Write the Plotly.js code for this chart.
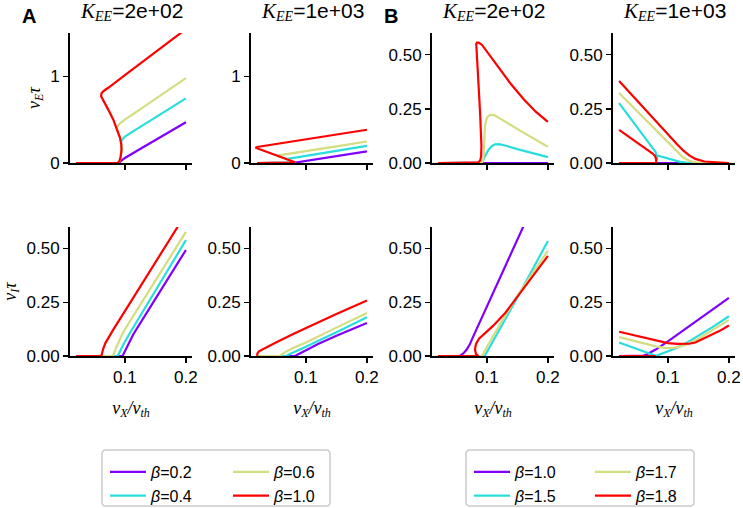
<!DOCTYPE html>
<html><head><meta charset="utf-8">
<script src="https://cdn.plot.ly/plotly-3.0.1.min.js"></script>
<style>html,body{margin:0;padding:0;background:#fff}#chart{width:743px;height:508px}</style>
</head><body><div id="chart"></div>
<script>
// ---------- data: [x = nu_X/nu_th, y] pairs, one list per curve ----------
const betaA = ['0.2', '0.4', '0.6', '1.0'];
const betaB = ['1.0', '1.5', '1.7', '1.8'];
const kLabels = ['2e+02', '1e+03'];
const xTicks = [0.1, 0.2];
const xTickText = ['0.1', '0.2'];
const yTicksE_A = [0, 1];
const yTickTextE_A = ['0', '1'];
const yTicksRate = [0, 0.25, 0.5];
const yTickTextRate = ['0.00', '0.25', '0.50'];

// Panel A, nu_E tau, K_EE = 2e+02
const A_E200_b02 = [[0.02,0],[0.05,0],[0.08,0],[0.09,0],[0.092,0.012],[0.095,0.03],[0.1,0.058],[0.12,0.142],[0.15,0.266],[0.2,0.47]];
const A_E200_b04 = [[0.02,0],[0.05,0],[0.08,0],[0.088,0],[0.091,0.02],[0.093,0.07],[0.0945,0.15],[0.0943,0.2],[0.0935,0.235],[0.095,0.265],[0.098,0.29],[0.1,0.305],[0.12,0.393],[0.15,0.525],[0.2,0.745]];
const A_E200_b06 = [[0.02,0],[0.05,0],[0.08,0],[0.088,0],[0.091,0.02],[0.093,0.07],[0.0945,0.15],[0.094,0.22],[0.092,0.29],[0.089,0.345],[0.087,0.384],[0.0875,0.415],[0.09,0.445],[0.0935,0.465],[0.1,0.5],[0.12,0.595],[0.15,0.74],[0.2,0.98]];
const A_E200_b10 = [[0.02,0],[0.05,0],[0.08,0],[0.088,0],[0.091,0.02],[0.093,0.07],[0.0945,0.15],[0.094,0.22],[0.092,0.29],[0.089,0.345],[0.085,0.43],[0.081,0.5],[0.0727,0.616],[0.066,0.7],[0.0625,0.74],[0.061,0.77],[0.0615,0.8],[0.064,0.825],[0.068,0.845],[0.0727,0.868],[0.1,1.013],[0.15,1.28],[0.2,1.545]];

// Panel A, nu_E tau, K_EE = 1e+03
const A_E1000_b02 = [[0.02,0],[0.05,0],[0.08,0],[0.083,0.005],[0.088,0.011],[0.1,0.024],[0.15,0.079],[0.2,0.135]];
const A_E1000_b04 = [[0.02,0],[0.05,0],[0.08,0],[0.083,0.005],[0.075,0.026],[0.068,0.043],[0.07,0.048],[0.075,0.053],[0.1,0.082],[0.15,0.14],[0.2,0.198]];
const A_E1000_b06 = [[0.02,0],[0.05,0],[0.08,0],[0.083,0.005],[0.07,0.04],[0.06,0.065],[0.053,0.082],[0.055,0.088],[0.06,0.093],[0.1,0.135],[0.15,0.191],[0.2,0.248]];
const A_E1000_b10 = [[0.02,0],[0.05,0],[0.08,0],[0.083,0.005],[0.07,0.04],[0.05,0.091],[0.03,0.139],[0.02,0.163],[0.0175,0.175],[0.02,0.185],[0.05,0.219],[0.1,0.273],[0.15,0.327],[0.2,0.384]];

// Panel B, nu_E tau, K_EE = 2e+02
const B_E200_b10 = [[0.02,0],[0.1,0],[0.2,0]];
const B_E200_b15 = [[0.02,0],[0.05,0],[0.088,0],[0.091,0.002],[0.093,0.01],[0.097,0.033],[0.102,0.058],[0.107,0.076],[0.113,0.086],[0.12,0.087],[0.13,0.081],[0.15,0.064],[0.17,0.048],[0.185,0.036],[0.2,0.027]];
const B_E200_b17 = [[0.02,0],[0.05,0],[0.088,0],[0.092,0.004],[0.094,0.015],[0.0952,0.05],[0.0958,0.12],[0.0965,0.16],[0.098,0.19],[0.1,0.208],[0.103,0.218],[0.107,0.223],[0.112,0.221],[0.12,0.207],[0.14,0.172],[0.16,0.14],[0.18,0.107],[0.2,0.075]];
const B_E200_b18 = [[0.02,0],[0.05,0],[0.08,0],[0.086,0.003],[0.089,0.012],[0.0905,0.03],[0.091,0.08],[0.0905,0.15],[0.089,0.22],[0.0875,0.3],[0.086,0.37],[0.084,0.43],[0.0825,0.5],[0.082,0.535],[0.0825,0.55],[0.084,0.556],[0.087,0.555],[0.092,0.545],[0.1,0.515],[0.12,0.44],[0.14,0.362],[0.16,0.295],[0.18,0.237],[0.2,0.19]];

// Panel B, nu_E tau, K_EE = 1e+03
const B_E1000_b10 = [[0.02,0],[0.1,0],[0.2,0]];
const B_E1000_b15 = [[0.02,0.276],[0.04,0.2],[0.06,0.125],[0.07,0.09],[0.076,0.067],[0.08,0.05],[0.081,0.03],[0.082,0.015],[0.0825,0.035],[0.085,0.033],[0.09,0.028],[0.1,0.018],[0.11,0.01],[0.12,0.005],[0.13,0.002],[0.14,0],[0.2,0]];
const B_E1000_b17 = [[0.02,0.323],[0.04,0.266],[0.06,0.209],[0.08,0.152],[0.095,0.109],[0.105,0.08],[0.115,0.05],[0.125,0.025],[0.135,0.01],[0.145,0.003],[0.16,0],[0.2,0]];
const B_E1000_b18 = [[0.02,0.378],[0.04,0.318],[0.06,0.256],[0.08,0.195],[0.1,0.133],[0.115,0.087],[0.125,0.058],[0.135,0.035],[0.145,0.019],[0.16,0.007],[0.18,0.002],[0.2,0],[null,null],[0.02,0.153],[0.04,0.114],[0.06,0.074],[0.0744,0.045],[0.079,0.032],[0.0805,0.02],[0.081,0],[0.05,0],[0.02,0]];

// Panel A, nu_I tau, K_EE = 2e+02
const A_I200_b02 = [[0.02,0],[0.05,0],[0.096,0],[0.098,0.01],[0.102,0.032],[0.107,0.062],[0.1136,0.1],[0.15,0.266],[0.2,0.493]];
const A_I200_b04 = [[0.02,0],[0.05,0],[0.088,0],[0.09,0.01],[0.094,0.035],[0.1,0.066],[0.108,0.106],[0.15,0.305],[0.2,0.539]];
const A_I200_b06 = [[0.02,0],[0.05,0],[0.08,0],[0.082,0.01],[0.085,0.035],[0.09,0.065],[0.095,0.098],[0.1028,0.137],[0.15,0.35],[0.2,0.577]];
const A_I200_b10 = [[0.02,0],[0.04,0],[0.06,0],[0.062,0.005],[0.064,0.03],[0.068,0.06],[0.074,0.092],[0.0807,0.1215],[0.1,0.209],[0.15,0.436],[0.2,0.662]];

// Panel A, nu_I tau, K_EE = 1e+03
const A_I1000_b02 = [[0.02,0],[0.05,0],[0.082,0],[0.086,0.006],[0.095,0.02],[0.1,0.028],[0.12,0.056],[0.15,0.094],[0.2,0.154]];
const A_I1000_b04 = [[0.02,0],[0.05,0],[0.068,0],[0.072,0.007],[0.08,0.018],[0.09,0.03],[0.1,0.043],[0.15,0.11],[0.2,0.18]];
const A_I1000_b06 = [[0.02,0],[0.04,0],[0.057,0],[0.062,0.01],[0.07,0.025],[0.08,0.038],[0.09,0.05],[0.1,0.063],[0.15,0.132],[0.2,0.2]];
const A_I1000_b10 = [[0.02,0],[0.0205,0.012],[0.023,0.022],[0.03,0.033],[0.05,0.062],[0.08,0.103],[0.1,0.13],[0.15,0.195],[0.2,0.258]];

// Panel B, nu_I tau, K_EE = 2e+02
const B_I200_b10 = [[0.02,0],[0.05,0],[0.055,0],[0.058,0.005],[0.062,0.014],[0.067,0.03],[0.072,0.055],[0.0775,0.09],[0.1,0.23],[0.13,0.417],[0.165,0.635]];
const B_I200_b15 = [[0.02,0],[0.05,0],[0.096,0],[0.098,0.008],[0.1,0.018],[0.12,0.118],[0.15,0.272],[0.2,0.535]];
const B_I200_b17 = [[0.02,0],[0.05,0],[0.09,0],[0.093,0.005],[0.095,0.018],[0.1,0.042],[0.12,0.14],[0.15,0.28],[0.175,0.385],[0.2,0.49]];
const B_I200_b18 = [[0.02,0],[0.05,0],[0.086,0],[0.082,0.01],[0.0805,0.03],[0.082,0.055],[0.087,0.08],[0.094,0.098],[0.11,0.14],[0.13,0.2],[0.15,0.275],[0.17,0.35],[0.2,0.466]];

// Panel B, nu_I tau, K_EE = 1e+03
const B_I1000_b10 = [[0.02,0],[0.05,0],[0.057,0],[0.06,0.002],[0.065,0.007],[0.07,0.014],[0.08,0.03],[0.1,0.068],[0.15,0.168],[0.2,0.27]];
const B_I1000_b15 = [[0.02,0.063],[0.04,0.042],[0.06,0.022],[0.075,0.007],[0.08,0.001],[0.083,0.003],[0.09,0.01],[0.1,0.02],[0.115,0.038],[0.13,0.06],[0.15,0.093],[0.175,0.138],[0.2,0.185]];
const B_I1000_b17 = [[0.02,0.088],[0.04,0.073],[0.06,0.058],[0.08,0.045],[0.095,0.038],[0.105,0.037],[0.115,0.04],[0.13,0.052],[0.15,0.08],[0.175,0.122],[0.2,0.168]];
const B_I1000_b18 = [[0.02,0.113],[0.05,0.093],[0.085,0.067],[0.1,0.06],[0.115,0.056],[0.125,0.055],[0.135,0.057],[0.145,0.063],[0.156,0.077],[0.17,0.095],[0.185,0.117],[0.2,0.142],[null,null],[0.02,0],[0.05,0],[0.08,0]];

// ---------- styling / layout ----------
const lineColors = ['#8000ff', '#2adddd', '#d4dd80', '#ff0000'];
const W = 743, H = 508;
const colPx = [[70, 192], [251, 373], [432, 554], [613, 735]];
const rowPx = [[33, 163], [227, 356]];
const fx = p => p / W;
const fy = p => 1 - p / H;

const panels = [
  {col:0,row:0,set:'A',series:[A_E200_b02,A_E200_b04,A_E200_b06,A_E200_b10]},
  {col:1,row:0,set:'A',series:[A_E1000_b02,A_E1000_b04,A_E1000_b06,A_E1000_b10]},
  {col:2,row:0,set:'B',series:[B_E200_b10,B_E200_b15,B_E200_b17,B_E200_b18]},
  {col:3,row:0,set:'B',series:[B_E1000_b10,B_E1000_b15,B_E1000_b17,B_E1000_b18]},
  {col:0,row:1,set:'A',series:[A_I200_b02,A_I200_b04,A_I200_b06,A_I200_b10]},
  {col:1,row:1,set:'A',series:[A_I1000_b02,A_I1000_b04,A_I1000_b06,A_I1000_b10]},
  {col:2,row:1,set:'B',series:[B_I200_b10,B_I200_b15,B_I200_b17,B_I200_b18]},
  {col:3,row:1,set:'B',series:[B_I1000_b10,B_I1000_b15,B_I1000_b17,B_I1000_b18]}
];

const tickFont = {family: 'Liberation Sans, Arial, sans-serif', size: 17, color: '#000'};
const mathFont = {family: 'Liberation Serif, Times New Roman, serif', size: 18, color: '#000'};
const legendIds = {A: ['legend', 'legend', 'legend2', 'legend2'], B: ['legend3', 'legend3', 'legend4', 'legend4']};
// subscript drawn with a baseline shift on the same text line
const sub = (t, px) => '<span style="font-size:' + px + 'px;baseline-shift:-22%"><i>' + t + '</i></span>';

const traces = [];
const layout = {
  width: W, height: H,
  margin: {l: 0, r: 0, t: 0, b: 0, pad: 0, autoexpand: false},
  paper_bgcolor: '#fff', plot_bgcolor: 'rgba(0,0,0,0)',
  showlegend: true,
  annotations: [], shapes: []
};

panels.forEach((p, pi) => {
  const sfx = pi === 0 ? '' : String(pi + 1);
  const betas = p.set === 'A' ? betaA : betaB;
  p.series.forEach((s, si) => {
    traces.push({
      x: s.map(d => d[0]), y: s.map(d => d[1]),
      xaxis: 'x' + sfx, yaxis: 'y' + sfx,
      mode: 'lines', line: {color: lineColors[si], width: 2.2},
      name: '<i>β</i>=' + betas[si],
      legend: legendIds[p.set][si],
      showlegend: (p.row === 0 && (p.col === 0 || p.col === 2)),
      connectgaps: false, hoverinfo: 'skip'
    });
  });
  const isERowA = p.row === 0 && p.set === 'A';
  const xa = {
    domain: [fx(colPx[p.col][0]), fx(colPx[p.col][1])],
    anchor: 'y' + sfx, range: [0.01, 0.21],
    tickmode: 'array', tickvals: xTicks, ticktext: xTickText,
    showticklabels: p.row === 1,
    showline: true, linecolor: '#000', linewidth: 2,
    ticks: 'outside', ticklen: 5, tickwidth: 1.5, tickcolor: '#000',
    showgrid: false, zeroline: false, tickfont: tickFont, fixedrange: true
  };
  if (p.row === 1) {
    xa.title = {text: '<i>ν</i>' + sub('X', 12) + '<i>/ν</i>' + sub('th', 12), font: mathFont, standoff: 15};
  }
  const ya = {
    domain: [fy(rowPx[p.row][1]), fy(rowPx[p.row][0])],
    anchor: 'x' + sfx,
    range: isERowA ? [0, 1.5] : [0, 0.6],
    tickmode: 'array',
    tickvals: isERowA ? yTicksE_A : yTicksRate,
    ticktext: isERowA ? yTickTextE_A : yTickTextRate,
    showline: true, linecolor: '#000', linewidth: 2,
    ticks: 'outside', ticklen: 5, tickwidth: 1.5, tickcolor: '#000',
    showgrid: false, zeroline: false, tickfont: tickFont, fixedrange: true
  };
  if (pi === 0) ya.title = {text: '<i>ν</i>' + sub('E', 12) + '<i>τ</i>', font: mathFont, standoff: 5};
  if (pi === 4) ya.title = {text: '<i>ν</i>' + sub('I', 12) + '<i>τ</i>', font: mathFont, standoff: 9};
  layout['xaxis' + sfx] = xa;
  layout['yaxis' + sfx] = ya;
  if (p.row === 0) {
    layout.annotations.push({
      xref: 'paper', yref: 'paper',
      x: fx((colPx[p.col][0] + colPx[p.col][1]) / 2), y: fy(12),
      xanchor: 'center', yanchor: 'middle', showarrow: false,
      text: '<span style="font-family:Liberation Serif"><i>K</i>' + sub('EE', 14) + '</span>=' + kLabels[p.col % 2],
      font: {family: 'Liberation Sans, Arial, sans-serif', size: 21, color: '#000'}
    });
  }
});

// panel letters
[['A', 28.5], ['B', 391]].forEach(([t, xp]) => {
  layout.annotations.push({
    xref: 'paper', yref: 'paper', x: fx(xp), y: fy(16),
    xanchor: 'center', yanchor: 'middle', showarrow: false,
    text: '<b>' + t + '</b>',
    font: {family: 'Liberation Sans, Arial, sans-serif', size: 20, color: '#000'}
  });
});

// legends: two framed boxes, each with two columns
const legFont = {family: 'Liberation Sans, Arial, sans-serif', size: 16, color: '#000'};
const legTopPx = 455;
const legCols = {legend: 105, legend2: 228, legend3: 469, legend4: 590};
Object.keys(legCols).forEach(k => {
  layout[k] = {
    x: fx(legCols[k]), y: fy(legTopPx), xanchor: 'left', yanchor: 'top',
    orientation: 'v', bgcolor: 'rgba(0,0,0,0)', borderwidth: 0,
    font: legFont, itemwidth: 36, tracegroupgap: 0, traceorder: 'normal'
  };
});

function roundRect(x0, y0, x1, y1, r) {
  const X = v => fx(v).toFixed(5), Y = v => fy(v).toFixed(5);
  return 'M' + X(x0 + r) + ',' + Y(y0) + ' L' + X(x1 - r) + ',' + Y(y0) +
    ' Q' + X(x1) + ',' + Y(y0) + ' ' + X(x1) + ',' + Y(y0 + r) +
    ' L' + X(x1) + ',' + Y(y1 - r) +
    ' Q' + X(x1) + ',' + Y(y1) + ' ' + X(x1 - r) + ',' + Y(y1) +
    ' L' + X(x0 + r) + ',' + Y(y1) +
    ' Q' + X(x0) + ',' + Y(y1) + ' ' + X(x0) + ',' + Y(y1 - r) +
    ' L' + X(x0) + ',' + Y(y0 + r) +
    ' Q' + X(x0) + ',' + Y(y0) + ' ' + X(x0 + r) + ',' + Y(y0) + ' Z';
}
[[102, 330], [466, 694]].forEach(([a, b]) => {
  layout.shapes.push({
    type: 'path', xref: 'paper', yref: 'paper',
    path: roundRect(a, 450, b, 506, 4),
    line: {color: '#cccccc', width: 1.5}, fillcolor: 'rgba(255,255,255,0.8)', layer: 'below'
  });
});

Plotly.newPlot('chart', traces, layout, {displayModeBar: false, staticPlot: true});
</script>
</body></html>
